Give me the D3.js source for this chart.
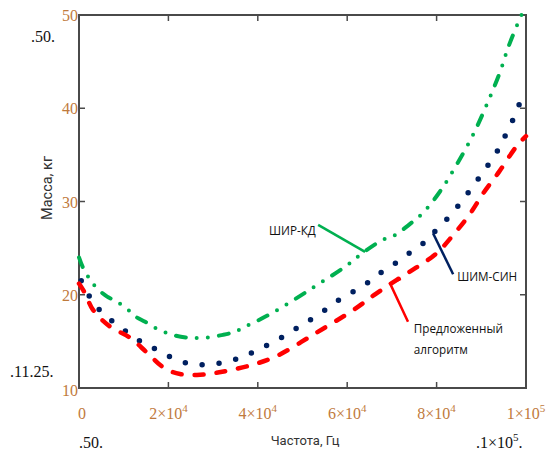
<!DOCTYPE html>
<html>
<head>
<meta charset="utf-8">
<script src="https://cdn.jsdelivr.net/npm/d3@7"></script>
<style>
  body { margin: 0; background: #fff; }
  .tick-label { font-family: "Liberation Serif", serif; font-size: 16px; fill: #bf7a3c; }
  .limit { font-family: "Liberation Serif", serif; font-size: 16px; fill: #111; }
  .title { font-family: Roboto, sans-serif; fill: #333; }
  .note { font-family: "Open Sans", sans-serif; font-size: 11.7px; fill: #111; }
</style>
</head>
<body>
<svg id="chart" width="551" height="457"></svg>
<script>
// frequency in Hz, mass in kg
var greenF = [0, 900, 2500, 4000, 6300, 8300, 10700, 12500, 14800, 18100, 21700, 24400, 28200, 32200, 34700, 36900, 43800, 52800, 59500, 63500, 68000, 70700, 73800, 77000, 80800, 84300, 88100, 91500, 94200, 96000, 98000, 99000];
var greenM = [24.0, 22.9, 21.6, 20.7, 19.8, 19.3, 18.5, 17.7, 17.1, 16.2, 15.6, 15.4, 15.4, 15.7, 16.0, 16.5, 18.2, 20.9, 23.0, 24.5, 25.9, 26.4, 27.5, 28.8, 31.1, 33.8, 37.1, 40.7, 43.9, 46.5, 48.9, 50.0];

var navyF = [500, 2500, 4900, 7600, 10700, 14100, 17400, 21000, 24800, 28600, 32700, 36500, 40000, 43400, 47000, 50300, 53700, 56800, 60000, 63500, 66700, 70000, 73400, 76500, 79200, 82100, 84600, 87000, 89300, 91500, 93700, 95500, 97300, 98700];
var navyM = [21.5, 19.7, 18.2, 17.1, 16.0, 14.9, 14.1, 13.2, 12.6, 12.5, 12.8, 13.3, 14.1, 14.9, 15.9, 16.9, 17.9, 19.0, 20.0, 20.9, 22.1, 23.1, 24.3, 25.3, 26.6, 28.0, 29.4, 30.9, 32.4, 33.9, 35.5, 37.2, 39.0, 40.7];

var redF = [0, 1300, 3100, 6900, 11400, 15200, 19200, 22600, 26400, 30400, 33800, 38900, 44100, 53000, 61500, 66400, 71100, 75400, 79900, 83700, 87500, 90600, 94000, 98000, 100000];
var redM = [21.2, 20.2, 18.4, 16.6, 15.4, 13.8, 12.1, 11.5, 11.4, 11.6, 11.9, 12.5, 13.4, 15.9, 18.4, 20.1, 21.6, 22.9, 24.4, 26.4, 28.7, 31.0, 33.2, 36.0, 37.0];

var yTicks = [10, 20, 30, 40, 50];
var xTicks = [0, 20000, 40000, 60000, 80000, 100000];
var xTickText = [["0", ""], ["2×10", "4"], ["4×10", "4"], ["6×10", "4"], ["8×10", "4"], ["1×10", "5"]];

// annotations: leader lines and labels in data units
var notes = [
  {color: "#00b050", line: [[53500, 27.5], [64000, 24.6]], text: ["ШИР-КД"], at: [42500, 26.4]},
  {color: "#002060", line: [[79200, 26.6], [83700, 22.2]], text: ["ШИМ-СИН"], at: [84600, 21.5]},
  {color: "#ff0000", line: [[72000, 21.7], [69600, 21.2], [73600, 17.1]], text: ["Предложенный", "алгоритм"], at: [74900, 15.9]}
];

var plotL = 79, plotR = 526, plotT = 15, plotB = 388;
var svg = d3.select("#chart");

var x = d3.scaleLinear().domain([0, 100000]).range([plotL, plotR]);
var y = d3.scaleLinear().domain([10, 50]).range([plotB, plotT]);

var line = d3.line().x(d => x(d[0])).y(d => y(d[1])).curve(d3.curveCatmullRom);

// frame
svg.append("rect")
  .attr("x", plotL).attr("y", plotT)
  .attr("width", plotR - plotL).attr("height", plotB - plotT)
  .attr("fill", "none").attr("stroke", "#4a4a4a").attr("stroke-width", 2);

// inward ticks on all four sides
var innerY = yTicks.slice(1, -1);
svg.selectAll(".ytl").data(innerY).enter().append("line")
  .attr("x1", plotL).attr("x2", plotL + 6)
  .attr("y1", d => y(d)).attr("y2", d => y(d))
  .attr("stroke", "#4a4a4a").attr("stroke-width", 1.5);
svg.selectAll(".ytr").data(innerY).enter().append("line")
  .attr("x1", plotR).attr("x2", plotR - 6)
  .attr("y1", d => y(d)).attr("y2", d => y(d))
  .attr("stroke", "#4a4a4a").attr("stroke-width", 1.5);
var innerX = xTicks.slice(1, -1);
svg.selectAll(".xtb").data(innerX).enter().append("line")
  .attr("x1", d => x(d)).attr("x2", d => x(d))
  .attr("y1", plotB).attr("y2", plotB - 6)
  .attr("stroke", "#4a4a4a").attr("stroke-width", 1.5);
svg.selectAll(".xtt").data(innerX).enter().append("line")
  .attr("x1", d => x(d)).attr("x2", d => x(d))
  .attr("y1", plotT).attr("y2", plotT + 6)
  .attr("stroke", "#4a4a4a").attr("stroke-width", 1.5);

// tick labels
svg.selectAll(".yl").data(yTicks).enter().append("text")
  .attr("class", "tick-label")
  .attr("x", plotL - 1).attr("y", d => y(d) + 6 + (d == 10 ? 2 : 0))
  .attr("text-anchor", "end")
  .text(d => d);

var xl = svg.selectAll(".xl").data(xTicks).enter().append("text")
  .attr("class", "tick-label")
  .attr("x", (d, i) => x(d) + (i == 0 ? 3 : 0)).attr("y", plotB + 31)
  .attr("text-anchor", "middle");
xl.append("tspan").text((d, i) => xTickText[i][0]);
xl.append("tspan").attr("font-size", 11).attr("dy", -7).text((d, i) => xTickText[i][1]);

// Mathcad limit placeholders
function limit(px, py, main, sup) {
  var t = svg.append("text").attr("class", "limit").attr("x", px).attr("y", py);
  t.append("tspan").text("." + main);
  if (sup) t.append("tspan").attr("font-size", 11).attr("dy", -7).text(sup);
  t.append("tspan").attr("dy", sup ? 7 : 0).text(".");
}
limit(31, 42, "50");
limit(10, 377, "11.25");
limit(79, 448, "50");
limit(476, 448, "1×10", "5");

// axis titles
svg.append("text").attr("class", "title")
  .attr("font-size", 14.5)
  .attr("transform", "translate(52,188)rotate(-90)")
  .attr("text-anchor", "middle").text("Масса, кг");
svg.append("text").attr("class", "title")
  .attr("font-size", 13)
  .attr("x", 305).attr("y", 445)
  .attr("text-anchor", "middle").text("Частота, Гц");

// curves
svg.append("path").datum(greenF.map((f, i) => [f, greenM[i]]))
  .attr("d", line).attr("fill", "none")
  .attr("stroke", "#00b050").attr("stroke-width", 4)
  .attr("stroke-linecap", "round")
  .attr("stroke-dasharray", "10 11 0 11 0 11");

svg.append("path").datum(navyF.map((f, i) => [f, navyM[i]]))
  .attr("d", line).attr("fill", "none")
  .attr("stroke", "#002060").attr("stroke-width", 5.5)
  .attr("stroke-linecap", "round")
  .attr("stroke-dasharray", "0 17");

svg.append("path").datum(redF.map((f, i) => [f, redM[i]]))
  .attr("d", line).attr("fill", "none")
  .attr("stroke", "#ff0000").attr("stroke-width", 4.5)
  .attr("stroke-linecap", "round")
  .attr("stroke-dasharray", "9 13");

// annotations
var plain = d3.line().x(d => x(d[0])).y(d => y(d[1]));
notes.forEach(function(n) {
  svg.append("path").attr("d", plain(n.line))
    .attr("fill", "none").attr("stroke", n.color).attr("stroke-width", 2.5);
  n.text.forEach(function(s, i) {
    svg.append("text").attr("class", "note")
      .attr("x", x(n.at[0])).attr("y", y(n.at[1]) + i * 21)
      .text(s);
  });
});
</script>
</body>
</html>
